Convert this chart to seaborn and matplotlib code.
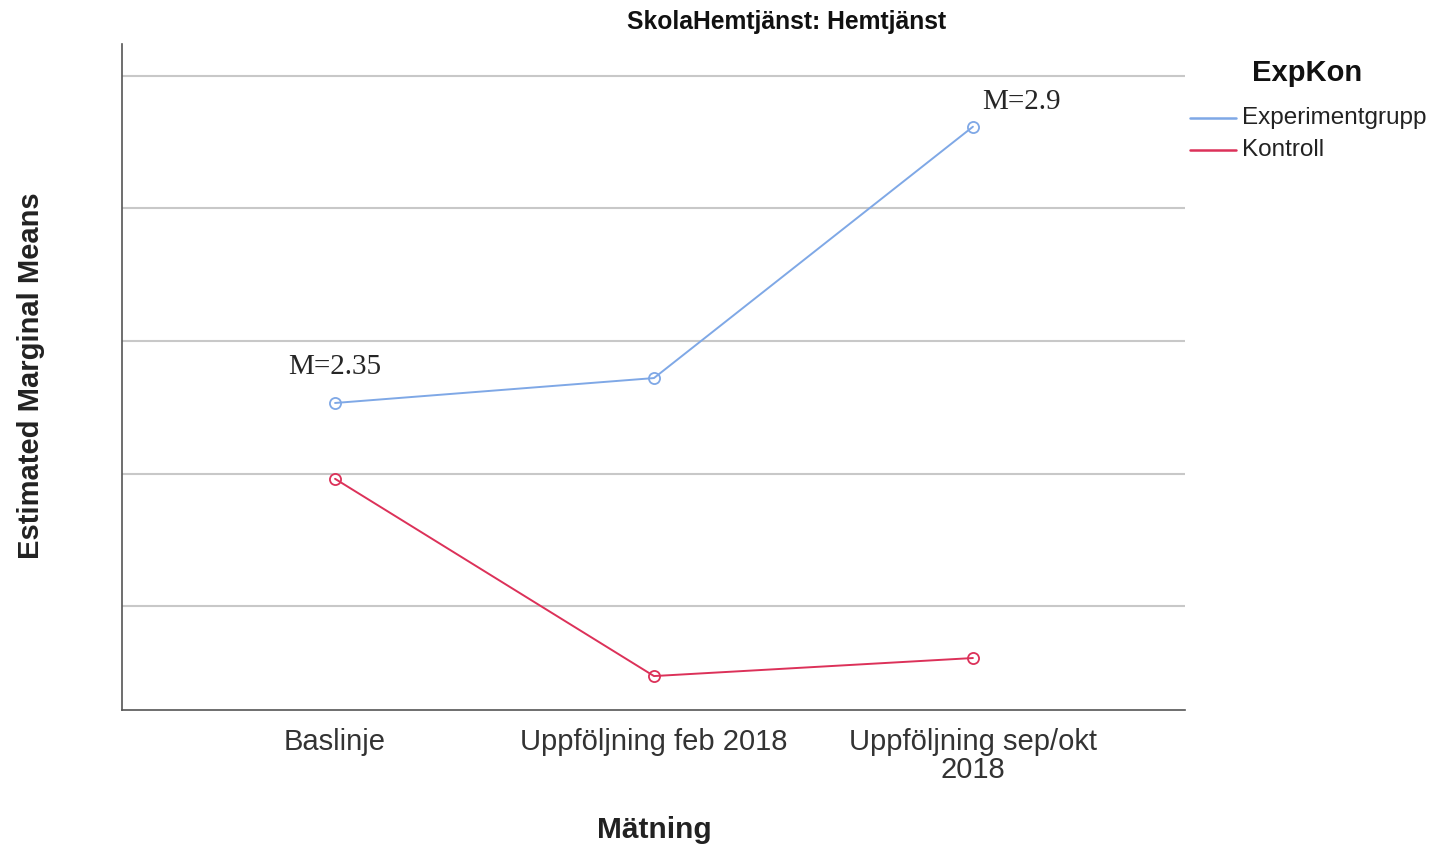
import matplotlib
matplotlib.use("Agg")
import matplotlib.pyplot as plt
import seaborn as sns
import pandas as pd
from matplotlib.lines import Line2D

categories = ["Baslinje", "Uppföljning feb 2018", "Uppföljning sep/okt\n2018"]
groups = ["Experimentgrupp", "Kontroll"]
exp_values = [2.383, 2.430, 2.904]
kon_values = [2.240, 1.868, 1.902]
grid_values = [2.0, 2.25, 2.5, 2.75, 3.0]
annot_texts = ["M=2.35", "M=2.9"]
colors = {"Experimentgrupp": "#7FA8E6", "Kontroll": "#DC3159"}

df = pd.DataFrame({
    "Mätning": list(range(3)) * 2,
    "value": exp_values + kon_values,
    "ExpKon": [groups[0]] * 3 + [groups[1]] * 3,
})

sns.set_theme(style="white")
plt.rcParams["font.family"] = ["Liberation Sans", "DejaVu Sans"]

W, H = 1432, 848
fig = plt.figure(figsize=(W / 100, H / 100), dpi=100)
ax = fig.add_axes([122/W, 1 - 710/H, (1185-122)/W, (710-44)/H])

sns.lineplot(data=df, x="Mätning", y="value", hue="ExpKon", palette=colors,
             marker="o", markersize=8, markerfacecolor="none", markeredgewidth=1.3,
             linewidth=1.4, ax=ax, legend=False)
for line in ax.lines:
    line.set_markeredgecolor(line.get_color())

ax.set_xlim(-0.668, 2.665)
ax.set_ylim(1.804, 3.060)
ax.set_yticks(grid_values)
ax.set_yticklabels([])
ax.tick_params(axis="y", length=0)
ax.yaxis.grid(True, color="#C8C8C8", linewidth=1.5)
ax.xaxis.grid(False)
ax.set_xticks(range(3))
ax.set_xticklabels(categories, fontsize=21, color="#333333", linespacing=1.0)
ax.tick_params(axis="x", length=0, pad=13)
for s in ["top", "right"]:
    ax.spines[s].set_visible(False)
for s in ["left", "bottom"]:
    ax.spines[s].set_color("#555555")
    ax.spines[s].set_linewidth(1.2)

ax.set_xlabel("")
ax.set_ylabel("")
fig.text(654/W, 1 - 830/H, "Mätning", ha="center", va="center", fontsize=21.5,
         fontweight="bold", color="#222222")
fig.text(31/W, 1 - 376/H, "Estimated Marginal Means", ha="center", va="center",
         rotation=90, fontsize=21, fontweight="bold", color="#222222")

ax.annotate(annot_texts[0], xy=(0, exp_values[0]), xytext=(0, 26), textcoords="offset points",
            ha="center", va="center", fontsize=21, family=["Liberation Serif"])
ax.annotate(annot_texts[1], xy=(2, exp_values[2]), xytext=(7, 18), textcoords="offset points",
            ha="left", va="center", fontsize=21, family=["Liberation Serif"])

fig.text(787/W, 1 - 22/H, "SkolaHemtjänst: Hemtjänst", ha="center", va="center",
         fontsize=17.7, fontweight="bold", color="#111111")

# legend
fig.text(1307/W, 1 - 73/H, "ExpKon", ha="center", va="center", fontsize=21,
         fontweight="bold", color="#111111")
for i, g in enumerate(groups):
    yy = 1 - (118 + 32 * i) / H
    fig.add_artist(Line2D([1190/W, 1236/W], [yy, yy], color=colors[g], linewidth=1.8,
                          transform=fig.transFigure))
    fig.text(1242/W, yy, g, ha="left", va="center", fontsize=17.5, color="#222222")

fig.savefig("out.png", dpi=100)
